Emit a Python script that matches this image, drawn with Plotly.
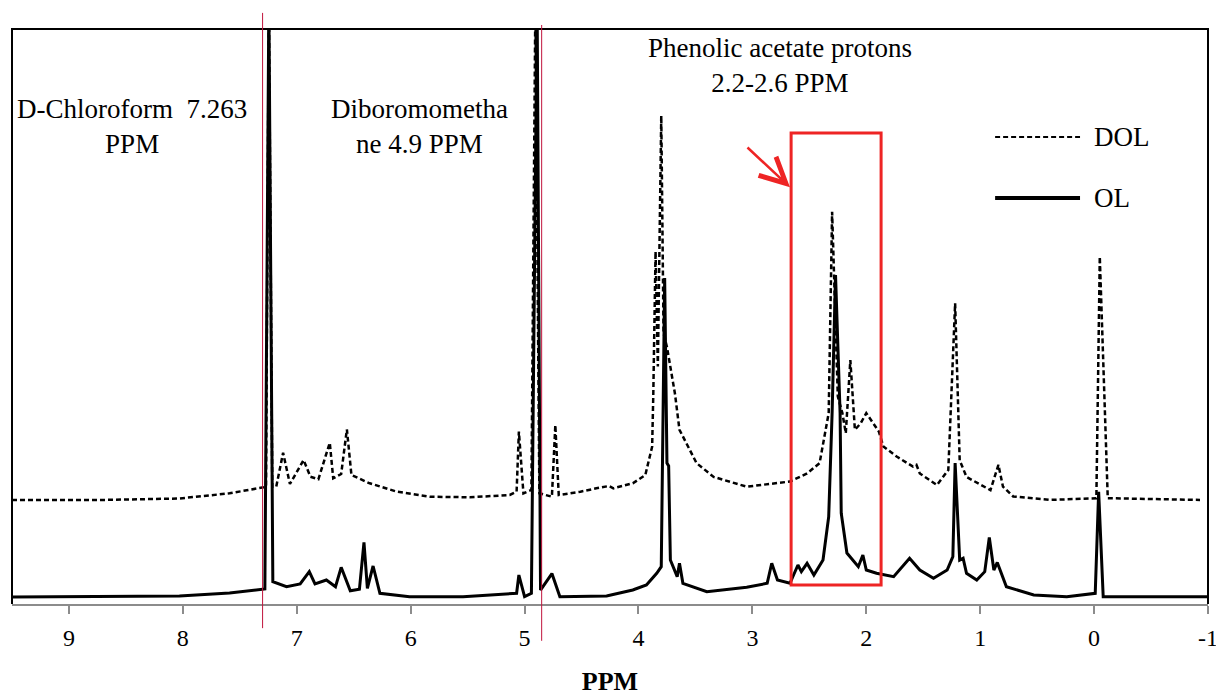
import plotly.graph_objects as go

# ---- data (chemical shift in ppm, relative intensity) ----
ol_ppm = [9.50, 8.73, 8.03, 7.59, 7.30, 7.28, 7.245, 7.21, 7.09, 6.97, 6.89, 6.84, 6.74, 6.66,
          6.61, 6.53, 6.45, 6.41, 6.38, 6.33, 6.27, 6.01, 5.54, 5.07, 5.05, 5.00, 4.94, 4.89,
          4.86, 4.76, 4.69, 4.28, 4.05, 3.93, 3.84, 3.80, 3.77, 3.75, 3.735, 3.72, 3.66, 3.64,
          3.61, 3.40, 3.05, 2.87, 2.83, 2.78, 2.67, 2.60, 2.57, 2.52, 2.46, 2.38, 2.33, 2.30,
          2.27, 2.23, 2.22, 2.17, 2.07, 2.03, 2.00, 1.91, 1.76, 1.62, 1.53, 1.41, 1.29, 1.24,
          1.22, 1.18, 1.15, 1.12, 1.03, 0.96, 0.92, 0.88, 0.85, 0.77, 0.53, 0.24, -0.01,
          -0.04, -0.08, -1.00]
ol_int = [1.22, 1.30, 1.39, 1.91, 2.61, 2.61, 105.0, 3.88, 3.01, 3.48, 5.62, 3.48, 4.17, 3.01,
          6.38, 2.31, 2.56, 10.73, 2.73, 6.61, 1.86, 1.27, 1.27, 1.86, 5.04, 1.27, 1.86, 105.0,
          2.43, 5.30, 1.27, 1.39, 2.43, 3.30, 5.34, 6.49, 56.7, 24.5, 24.0, 7.65, 4.75, 7.08,
          3.60, 2.14, 2.90, 3.60, 7.08, 4.17, 3.60, 6.78, 5.62, 7.08, 5.04, 7.65, 15.18, 33.2,
          57.2, 33.2, 15.8, 8.87, 6.49, 8.52, 5.91, 5.34, 4.75, 7.95, 5.91, 4.47, 5.91, 8.23,
          24.5, 7.65, 7.95, 5.34, 4.17, 5.62, 11.57, 5.91, 7.22, 3.01, 1.57, 1.27, 1.86,
          19.53, 1.27, 1.27]

dol_ppm = [9.50, 8.73, 8.03, 7.59, 7.29, 7.27, 7.245, 7.215, 7.18, 7.12, 7.06, 6.94, 6.88,
           6.81, 6.71, 6.68, 6.61, 6.56, 6.52, 6.36, 6.12, 5.83, 5.48, 5.13, 5.07, 5.05, 5.01,
           4.94, 4.905, 4.87, 4.76, 4.73, 4.70, 4.51, 4.37, 4.26, 4.22, 4.05, 3.94, 3.88, 3.87,
           3.85, 3.83, 3.80, 3.78, 3.75, 3.68, 3.64, 3.49, 3.34, 3.05, 2.76, 2.67, 2.52, 2.41,
           2.33, 2.30, 2.25, 2.21, 2.18, 2.14, 2.10, 2.05, 2.00, 1.89, 1.85, 1.73, 1.59, 1.56,
           1.53, 1.38, 1.28, 1.22, 1.18, 1.12, 0.91, 0.84, 0.80, 0.71, 0.39, -0.02, -0.05,
           -0.12, -0.93]
dol_int = [18.09, 18.09, 18.35, 19.25, 20.30, 20.4, 105.0, 20.4, 20.4, 26.3, 20.87, 25.04,
           22.14, 21.69, 28.05, 21.86, 22.61, 30.38, 22.43, 20.99, 19.53, 18.66, 18.56, 18.96,
           19.53, 29.97, 19.25, 19.83, 105.0, 19.25, 18.66, 31.13, 18.96, 19.53, 20.12, 20.52,
           20.12, 20.99, 22.43, 27.36, 36.3, 61.3, 41.3, 84.9, 47.1, 44.7, 36.6, 30.3, 24.5,
           22.1, 20.4, 21.0, 21.3, 22.7, 24.5, 33.2, 68.2, 36.1, 33.2, 29.7, 42.4, 30.3, 31.4,
           33.2, 30.0, 27.4, 25.6, 23.9, 24.2, 22.7, 20.7, 23.3, 52.3, 25.0, 22.1, 19.8, 24.2,
           20.4, 18.7, 18.1, 18.4, 60.4, 18.4, 18.1]

series_names = ["DOL", "OL"]
x_ticks = [9, 8, 7, 6, 5, 4, 3, 2, 1, 0, -1]
x_tick_labels = ["9", "8", "7", "6", "5", "4", "3", "2", "1", "0", "-1"]
marker_ppm = [7.30, 4.85]          # red reference lines (solvent peaks)
box_ppm = [2.66, 1.87]             # highlighted region
box_int = [3.3, 81.9]

FONT = "Liberation Serif, Times New Roman, serif"
RED = "#EE2424"
CRIMSON = "#C0143C"
TXT = dict(family=FONT, size=27, color="black")

fig = go.Figure()
fig.add_trace(go.Scatter(x=dol_ppm, y=dol_int, mode="lines", name=series_names[0],
                         line=dict(color="black", width=2.5, dash="5px,3px"), showlegend=False))
fig.add_trace(go.Scatter(x=ol_ppm, y=ol_int, mode="lines", name=series_names[1],
                         line=dict(color="black", width=3), showlegend=False))

shapes = []
# frame (left, top, right) in black
shapes.append(dict(type="path", xref="paper", yref="paper",
                   path="M 0,0 L 0,1 L 1,1 L 1,0", line=dict(color="black", width=2)))
# red reference lines extending beyond the plot
shapes.append(dict(type="line", xref="x", yref="paper", x0=marker_ppm[0], x1=marker_ppm[0],
                   y0=-0.042, y1=1.028, line=dict(color=CRIMSON, width=1)))
shapes.append(dict(type="line", xref="x", yref="paper", x0=marker_ppm[1], x1=marker_ppm[1],
                   y0=-0.064, y1=1.007, line=dict(color=CRIMSON, width=1)))
# highlight box
shapes.append(dict(type="rect", xref="x", yref="y", x0=box_ppm[0], x1=box_ppm[1],
                   y0=box_int[0], y1=box_int[1], line=dict(color=RED, width=3)))
# manual legend samples
shapes.append(dict(type="line", xref="paper", yref="paper", x0=0.822, x1=0.893, y0=0.812, y1=0.812,
                   line=dict(color="black", width=2, dash="5px,3px")))
shapes.append(dict(type="line", xref="paper", yref="paper", x0=0.822, x1=0.893, y0=0.706, y1=0.706,
                   line=dict(color="black", width=4)))

annotations = [
    dict(text="D-Chloroform\u00a0 7.263<br>PPM", xref="paper", yref="paper", x=0.1003, y=0.830,
         xanchor="center", yanchor="middle", showarrow=False, font=TXT, align="center"),
    dict(text="Diboromometha<br>ne 4.9 PPM", xref="paper", yref="paper", x=0.3411, y=0.830,
         xanchor="center", yanchor="middle", showarrow=False, font=TXT, align="center"),
    dict(text="Phenolic acetate protons<br>2.2-2.6 PPM", xref="paper", yref="paper", x=0.6421,
         y=0.9357, xanchor="center", yanchor="middle", showarrow=False, font=TXT, align="center"),
    dict(text=series_names[0], xref="paper", yref="paper", x=0.903, y=0.812, xanchor="left",
         yanchor="middle", showarrow=False, font=TXT),
    dict(text=series_names[1], xref="paper", yref="paper", x=0.903, y=0.706, xanchor="left",
         yanchor="middle", showarrow=False, font=TXT),
    # red arrow pointing to the box
    dict(text="", xref="x", yref="y", x=2.67, y=72.5, ax=-44, ay=-41, showarrow=True,
         arrowhead=5, arrowsize=2.0, arrowwidth=2.5, arrowcolor=RED),
]

fig.update_layout(
    width=1216, height=698,
    margin=dict(l=12, r=8, t=29, b=94),
    paper_bgcolor="white", plot_bgcolor="white",
    shapes=shapes, annotations=annotations,
    font=dict(family=FONT, color="black"),
    xaxis=dict(range=[9.5, -1], tickmode="array", tickvals=x_ticks, ticktext=x_tick_labels,
               ticks="outside", ticklen=8, tickwidth=2, tickcolor="#8c8c8c",
               showline=True, linecolor="#8c8c8c", linewidth=2, showgrid=False, zeroline=False,
               tickfont=dict(family=FONT, size=24, color="black"), ticklabelstandoff=3,
               ticklabeloverflow="allow",
               title=dict(text="<b>PPM</b>", font=dict(family=FONT, size=26, color="black"),
                          standoff=22), automargin=False),
    yaxis=dict(range=[0, 100], visible=False, showgrid=False, zeroline=False),
)

fig.write_html("out.html")
